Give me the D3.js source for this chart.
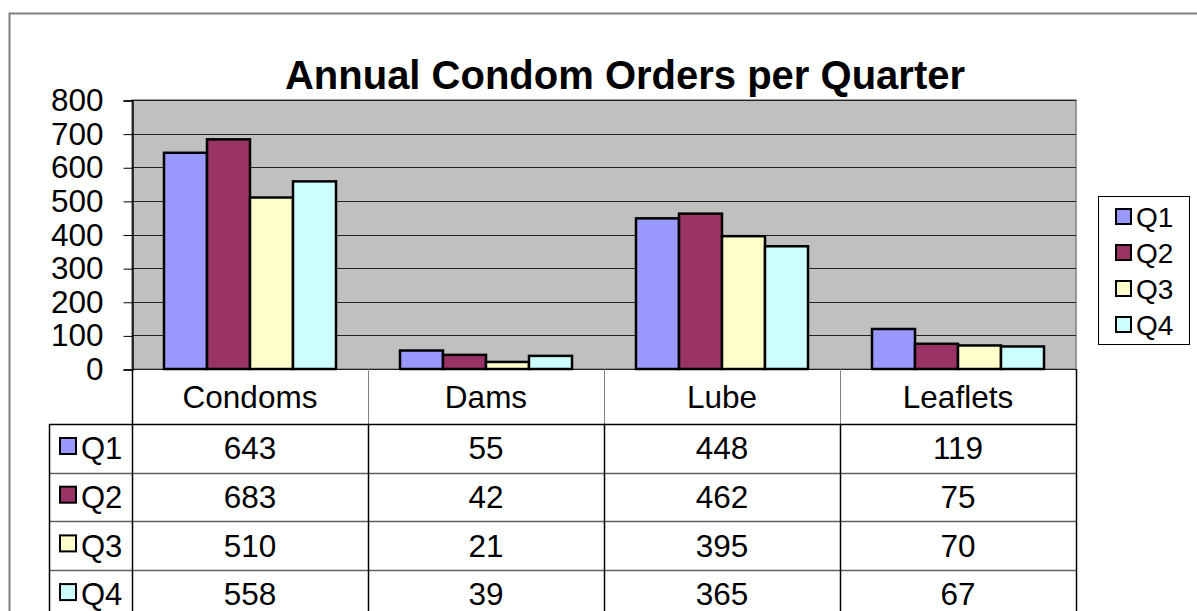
<!DOCTYPE html>
<html lang="en">
<head>
  <meta charset="UTF-8">
  <title>Annual Condom Orders per Quarter</title>
  <script src="https://cdn.jsdelivr.net/npm/d3@7"></script>
  <style>
    body { margin: 0; padding: 0; background: #fff; }
    svg text { font-family: "Liberation Sans", Arial, sans-serif; fill: #000; }
  </style>
</head>
<body>
<div id="chart"></div>
<script>
// data
var categories = ["Condoms", "Dams", "Lube", "Leaflets"];
var series = ["Q1", "Q2", "Q3", "Q4"];
var q1 = [643, 55, 448, 119];
var q2 = [683, 42, 462, 75];
var q3 = [510, 21, 395, 70];
var q4 = [558, 39, 365, 67];
var yTicks = [0, 100, 200, 300, 400, 500, 600, 700, 800];
var colors = ["#9999FF", "#993366", "#FFFFCC", "#CCFFFF"];

var values = [q1, q2, q3, q4];

var W = 1197, H = 611;
var plot = {left: 132, right: 1076, top: 100, bottom: 369};

var svg = d3.select("#chart").append("svg")
    .attr("width", W)
    .attr("height", H);

// outer chart border
svg.append("path")
    .attr("d", "M9.5," + H + " L9.5,13.5 L" + W + ",13.5")
    .attr("fill", "none")
    .attr("stroke", "#808080")
    .attr("stroke-width", 2);

var x = d3.scaleBand().domain(categories).range([plot.left, plot.right]);
var xs = d3.scaleBand().domain(series)
    .range([32, x.bandwidth() - 32]);
var y = d3.scaleLinear().domain([0, 800]).range([plot.bottom, plot.top]);

// plot area
svg.append("rect")
    .attr("x", plot.left).attr("y", plot.top)
    .attr("width", plot.right - plot.left)
    .attr("height", plot.bottom - plot.top)
    .attr("fill", "#C0C0C0")
    .attr("stroke", "#808080")
    .attr("stroke-width", 1.5);

// gridlines
svg.append("g").selectAll("line")
  .data(yTicks)
  .enter().append("line")
    .attr("x1", plot.left).attr("x2", plot.right)
    .attr("y1", function(d) { return Math.round(y(d)) + 0.5; })
    .attr("y2", function(d) { return Math.round(y(d)) + 0.5; })
    .attr("stroke", "#222")
    .attr("stroke-width", 1);

// y axis
var yAxis = svg.append("g")
    .attr("transform", "translate(" + (plot.left + 0.5) + ",0.5)")
    .call(d3.axisLeft(y).tickValues(yTicks).tickSize(9).tickPadding(20)
          .tickFormat(d3.format("d")));
yAxis.select(".domain").attr("stroke", "#000").attr("stroke-width", 1.5);
yAxis.selectAll(".tick line").attr("stroke", "#000");
yAxis.selectAll(".tick text")
    .style("font-size", "31.5px")
    .attr("fill", "#000");

// bars
var groups = svg.append("g").selectAll("g")
  .data(series)
  .enter().append("g")
    .attr("fill", function(d, i) { return colors[i]; });

groups.selectAll("rect")
  .data(function(s, i) {
    return categories.map(function(c, j) { return {cat: c, s: s, v: values[i][j]}; });
  })
  .enter().append("rect")
    .attr("x", function(d) { return x(d.cat) + xs(d.s); })
    .attr("width", xs.bandwidth())
    .attr("y", function(d) { return y(d.v); })
    .attr("height", function(d) { return y(0) - y(d.v); })
    .attr("stroke", "#000")
    .attr("stroke-width", 2.5);

// title
svg.append("text")
    .attr("x", 625).attr("y", 89)
    .attr("text-anchor", "middle")
    .style("font-size", "40px")
    .style("font-weight", "bold")
    .text("Annual Condom Orders per Quarter");

// data table
var catRowBottom = 424;
var rowY = d3.scaleBand().domain(series).range([catRowBottom, catRowBottom + 4 * 48.7]);
var tableLeft = 49;

var table = svg.append("g");

// category labels
table.selectAll("text.cat")
  .data(categories)
  .enter().append("text")
    .attr("class", "cat")
    .attr("x", function(d) { return x(d) + x.bandwidth() / 2; })
    .attr("y", (plot.bottom + catRowBottom) / 2 + 11)
    .attr("text-anchor", "middle")
    .style("font-size", "31.5px")
    .text(function(d) { return d; });

// vertical dividers in category row (grey)
table.selectAll("line.cv")
  .data(categories.slice(1))
  .enter().append("line")
    .attr("x1", function(d) { return Math.round(x(d)) + 0.5; })
    .attr("x2", function(d) { return Math.round(x(d)) + 0.5; })
    .attr("y1", plot.bottom).attr("y2", catRowBottom)
    .attr("stroke", "#808080");

// horizontal row lines
table.selectAll("line.rh")
  .data(series)
  .enter().append("line")
    .attr("x1", tableLeft).attr("x2", plot.right)
    .attr("y1", function(d) { return Math.round(rowY(d)) + 0.5; })
    .attr("y2", function(d) { return Math.round(rowY(d)) + 0.5; })
    .attr("stroke", function(d, i) { return i === 0 ? "#000" : "#606060"; })
    .attr("stroke-width", 1.5);

// vertical lines of data rows
var vx = [tableLeft, plot.left].concat(categories.slice(1).map(function(c) { return x(c); })).concat([plot.right]);
table.selectAll("line.dv")
  .data(vx)
  .enter().append("line")
    .attr("x1", function(d) { return Math.round(d) + 0.5; })
    .attr("x2", function(d) { return Math.round(d) + 0.5; })
    .attr("y1", function(d) { return (d === plot.left || d === plot.right) ? plot.bottom : catRowBottom; })
    .attr("y2", H)
    .attr("stroke", "#000")
    .attr("stroke-width", 1.5);

// row legend keys + labels
var rows = table.selectAll("g.row")
  .data(series)
  .enter().append("g")
    .attr("transform", function(d) { return "translate(0," + rowY(d) + ")"; });

rows.append("rect")
    .attr("x", 60).attr("y", 14)
    .attr("width", 16).attr("height", 16)
    .attr("fill", function(d, i) { return colors[i]; })
    .attr("stroke", "#000")
    .attr("stroke-width", 2);

rows.append("text")
    .attr("x", 81).attr("y", rowY.bandwidth() / 2 + 11)
    .style("font-size", "31px")
    .text(function(d) { return d; });

rows.selectAll("text.val")
  .data(function(s, i) { return values[i]; })
  .enter().append("text")
    .attr("class", "val")
    .attr("x", function(d, j) { return x(categories[j]) + x.bandwidth() / 2; })
    .attr("y", rowY.bandwidth() / 2 + 11)
    .attr("text-anchor", "middle")
    .style("font-size", "31.5px")
    .text(function(d) { return d; });

// legend
var legend = svg.append("g");
legend.append("rect")
    .attr("x", 1098.5).attr("y", 196.5)
    .attr("width", 91).attr("height", 148)
    .attr("fill", "#fff")
    .attr("stroke", "#000")
    .attr("stroke-width", 1);

var ly = d3.scalePoint().domain(series).range([217, 325]);
var items = legend.selectAll("g.item")
  .data(series)
  .enter().append("g")
    .attr("transform", function(d) { return "translate(0," + ly(d) + ")"; });
items.append("rect")
    .attr("x", 1116).attr("y", -8)
    .attr("width", 15).attr("height", 15)
    .attr("fill", function(d, i) { return colors[i]; })
    .attr("stroke", "#000")
    .attr("stroke-width", 2);
items.append("text")
    .attr("x", 1136).attr("y", 10)
    .style("font-size", "28px")
    .text(function(d) { return d; });
</script>
</body>
</html>
